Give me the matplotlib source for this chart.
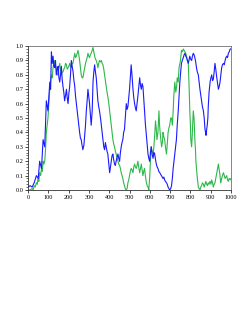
import matplotlib
matplotlib.use("Agg")
import matplotlib.pyplot as plt
from matplotlib.ticker import MultipleLocator

plt.rcParams['font.family'] = ['Liberation Serif', 'DejaVu Serif']

# blue series as (x, y) pairs
blue_pts = [
    (0, 0.02), (10, 0.03), (20, 0.02), (30, 0.05), (41, 0.10), (50, 0.08), (57, 0.20), (66, 0.15),
    (74, 0.35), (82, 0.30), (86, 0.45), (90, 0.62), (98, 0.55), (103, 0.66), (107, 0.75),
    (111, 0.70), (115, 0.96), (119, 0.88), (123, 0.93), (127, 0.86), (131, 0.85), (135, 0.90),
    (139, 0.80), (144, 0.84), (148, 0.86), (152, 0.78), (156, 0.75), (160, 0.80), (164, 0.86),
    (168, 0.77), (172, 0.72), (176, 0.68), (180, 0.62), (185, 0.66), (189, 0.70), (193, 0.64),
    (197, 0.60), (201, 0.67), (205, 0.72), (209, 0.80), (213, 0.90), (217, 0.86), (221, 0.83),
    (226, 0.76), (230, 0.72), (234, 0.65), (238, 0.60), (242, 0.55), (246, 0.50), (250, 0.45),
    (254, 0.40), (258, 0.36), (262, 0.35), (266, 0.31), (270, 0.28), (275, 0.31), (279, 0.38),
    (283, 0.45), (287, 0.55), (291, 0.62), (295, 0.70), (299, 0.65), (303, 0.60), (307, 0.52),
    (311, 0.45), (316, 0.55), (320, 0.75), (324, 0.82), (328, 0.87), (332, 0.82), (336, 0.78),
    (340, 0.70), (344, 0.62), (348, 0.58), (352, 0.55), (357, 0.50), (361, 0.45), (365, 0.40),
    (369, 0.35), (373, 0.30), (377, 0.28), (381, 0.33), (385, 0.30), (389, 0.27), (393, 0.25),
    (398, 0.18), (402, 0.12), (406, 0.16), (410, 0.20), (414, 0.24), (418, 0.25), (422, 0.21),
    (426, 0.18), (430, 0.17), (434, 0.20), (439, 0.23), (443, 0.25), (447, 0.22), (451, 0.20),
    (455, 0.26), (459, 0.30), (463, 0.33), (467, 0.35), (471, 0.40), (475, 0.42), (479, 0.50),
    (484, 0.60), (488, 0.56), (492, 0.58), (496, 0.64), (500, 0.70), (504, 0.78), (508, 0.87),
    (512, 0.80), (517, 0.70), (521, 0.64), (525, 0.60), (529, 0.57), (533, 0.55), (537, 0.60),
    (541, 0.65), (545, 0.71), (550, 0.78), (554, 0.73), (558, 0.70), (562, 0.74), (566, 0.72),
    (570, 0.64), (574, 0.55), (578, 0.46), (583, 0.38), (587, 0.31), (591, 0.25), (595, 0.22),
    (599, 0.20), (603, 0.26), (607, 0.30), (611, 0.25), (616, 0.22), (620, 0.26), (624, 0.25),
    (628, 0.21), (632, 0.18), (636, 0.16), (640, 0.15), (644, 0.13), (649, 0.12), (653, 0.11),
    (657, 0.10), (661, 0.09), (665, 0.08), (669, 0.09), (673, 0.07), (677, 0.06), (682, 0.05),
    (686, 0.04), (690, 0.02), (694, 0.01), (698, 0.00), (703, 0.01), (707, 0.03), (711, 0.08),
    (715, 0.15), (719, 0.20), (723, 0.25), (727, 0.30), (731, 0.35), (735, 0.45), (740, 0.55),
    (744, 0.65), (748, 0.75), (752, 0.82), (756, 0.88), (760, 0.90), (765, 0.92), (769, 0.94),
    (773, 0.95), (777, 0.93), (781, 0.92), (785, 0.90), (789, 0.88), (793, 0.90), (797, 0.93),
    (801, 0.91), (806, 0.90), (810, 0.93), (814, 0.95), (818, 0.94), (822, 0.92), (826, 0.89),
    (830, 0.85), (834, 0.82), (839, 0.80), (843, 0.75), (847, 0.70), (851, 0.66), (855, 0.62),
    (859, 0.58), (864, 0.55), (868, 0.50), (872, 0.42), (875, 0.40), (877, 0.38), (880, 0.42),
    (883, 0.45), (886, 0.50), (888, 0.58), (892, 0.68), (897, 0.75), (901, 0.78), (905, 0.80),
    (909, 0.76), (913, 0.77), (917, 0.82), (921, 0.88), (925, 0.84), (930, 0.78), (934, 0.74),
    (938, 0.70), (942, 0.72), (946, 0.75), (950, 0.80), (954, 0.85), (958, 0.87), (963, 0.88),
    (967, 0.87), (971, 0.90), (975, 0.92), (979, 0.93), (983, 0.92), (987, 0.95), (991, 0.96),
    (996, 0.98), (1000, 0.98),
]

# green series as (x, y) pairs
green_pts = [
    (0, 0.00), (10, 0.00), (20, 0.01), (25, 0.00), (30, 0.03), (35, 0.02), (41, 0.05), (45, 0.04),
    (49, 0.08), (53, 0.06), (57, 0.12), (62, 0.10), (66, 0.15), (70, 0.13), (74, 0.20), (78, 0.18),
    (82, 0.20), (86, 0.28), (90, 0.40), (94, 0.45), (98, 0.50), (103, 0.62), (107, 0.70),
    (111, 0.75), (115, 0.80), (119, 0.78), (123, 0.85), (127, 0.88), (131, 0.90), (135, 0.86),
    (139, 0.85), (144, 0.80), (148, 0.80), (152, 0.85), (156, 0.88), (160, 0.84), (164, 0.80),
    (168, 0.82), (172, 0.82), (176, 0.84), (180, 0.85), (185, 0.88), (189, 0.87), (193, 0.84),
    (197, 0.85), (201, 0.86), (205, 0.88), (209, 0.86), (213, 0.85), (217, 0.88), (221, 0.88),
    (226, 0.92), (230, 0.95), (234, 0.92), (238, 0.93), (242, 0.95), (246, 0.97), (250, 0.94),
    (254, 0.90), (258, 0.85), (262, 0.80), (266, 0.78), (270, 0.78), (275, 0.82), (279, 0.85),
    (283, 0.88), (287, 0.90), (291, 0.92), (295, 0.95), (299, 0.93), (303, 0.92), (307, 0.94),
    (311, 0.95), (316, 0.97), (320, 0.99), (324, 0.96), (328, 0.93), (332, 0.91), (336, 0.90),
    (340, 0.88), (344, 0.85), (348, 0.88), (352, 0.90), (357, 0.89), (361, 0.90), (365, 0.88),
    (369, 0.87), (373, 0.84), (377, 0.80), (381, 0.76), (385, 0.72), (389, 0.68), (393, 0.65),
    (398, 0.60), (402, 0.55), (406, 0.50), (410, 0.45), (414, 0.40), (418, 0.35), (422, 0.32),
    (426, 0.30), (430, 0.27), (434, 0.25), (439, 0.22), (443, 0.20), (447, 0.18), (451, 0.17),
    (455, 0.15), (459, 0.12), (463, 0.10), (467, 0.08), (471, 0.05), (475, 0.03), (479, 0.01),
    (483, 0.00), (488, 0.01), (492, 0.05), (496, 0.07), (500, 0.10), (504, 0.13), (508, 0.15),
    (512, 0.14), (517, 0.12), (521, 0.16), (525, 0.18), (529, 0.16), (533, 0.15), (537, 0.17),
    (541, 0.20), (545, 0.16), (550, 0.12), (554, 0.15), (558, 0.18), (562, 0.14), (566, 0.10),
    (570, 0.13), (574, 0.15), (578, 0.10), (583, 0.05), (587, 0.03), (591, 0.02), (595, 0.00),
    (599, 0.08), (603, 0.20), (607, 0.30), (611, 0.27), (616, 0.25), (620, 0.30), (624, 0.38),
    (628, 0.48), (632, 0.42), (635, 0.35), (640, 0.40), (645, 0.55), (648, 0.45), (652, 0.38),
    (658, 0.30), (662, 0.33), (665, 0.40), (669, 0.37), (673, 0.35), (677, 0.30), (682, 0.25),
    (686, 0.32), (690, 0.40), (694, 0.43), (698, 0.45), (703, 0.50), (707, 0.50), (711, 0.45),
    (715, 0.55), (718, 0.65), (723, 0.75), (728, 0.68), (732, 0.72), (735, 0.78), (740, 0.75),
    (744, 0.85), (748, 0.88), (751, 0.90), (756, 0.97), (760, 0.96), (765, 0.98), (769, 0.97),
    (773, 0.96), (777, 0.95), (781, 0.93), (785, 0.90), (789, 0.90), (794, 0.70), (797, 0.55),
    (800, 0.45), (802, 0.35), (806, 0.30), (809, 0.38), (811, 0.45), (814, 0.55), (818, 0.50),
    (822, 0.35), (825, 0.28), (827, 0.20), (830, 0.15), (833, 0.10), (836, 0.06), (839, 0.02),
    (843, 0.01), (847, 0.00), (851, 0.02), (855, 0.03), (859, 0.05), (864, 0.04), (868, 0.02),
    (872, 0.04), (876, 0.06), (880, 0.04), (884, 0.03), (888, 0.05), (892, 0.04), (897, 0.06),
    (901, 0.04), (905, 0.07), (909, 0.05), (913, 0.02), (917, 0.04), (921, 0.05), (925, 0.08),
    (930, 0.12), (934, 0.15), (938, 0.18), (942, 0.14), (946, 0.10), (949, 0.05), (951, 0.06),
    (954, 0.08), (958, 0.10), (963, 0.12), (967, 0.10), (971, 0.08), (975, 0.09), (979, 0.10),
    (983, 0.07), (987, 0.06), (991, 0.08), (996, 0.07), (1000, 0.08),
]

blue_x, blue_y = zip(*blue_pts)
green_x, green_y = zip(*green_pts)

fig = plt.figure(figsize=(2.53, 3.27), dpi=100)
ax = fig.add_axes([0.111, 0.419, 0.802, 0.440])

ax.plot(green_x, green_y, color='#2db84a', lw=0.8)
ax.plot(blue_x, blue_y, color='#1a1aff', lw=0.8)

ax.set_xlim(0, 1000)
ax.set_ylim(0, 1.0)
ax.xaxis.set_major_locator(MultipleLocator(100))
ax.yaxis.set_major_locator(MultipleLocator(0.1))
ax.yaxis.set_minor_locator(MultipleLocator(0.02))
ax.tick_params(labelsize=4.5, length=2, width=0.5, pad=1.5)
ax.tick_params(axis='y', which='minor', length=1.2, width=0.4)
ax.set_yticks(ax.get_yticks())
ax.set_yticklabels([f"{v:.1f}" for v in ax.get_yticks()])
ax.set_ylim(0, 1.0)

for s in ['top', 'right']:
    ax.spines[s].set_linewidth(0.5)
    ax.spines[s].set_color('#555555')
for s in ['left', 'bottom']:
    ax.spines[s].set_linewidth(0.6)
    ax.spines[s].set_color('#333333')

fig.savefig('out.png', dpi=100)
